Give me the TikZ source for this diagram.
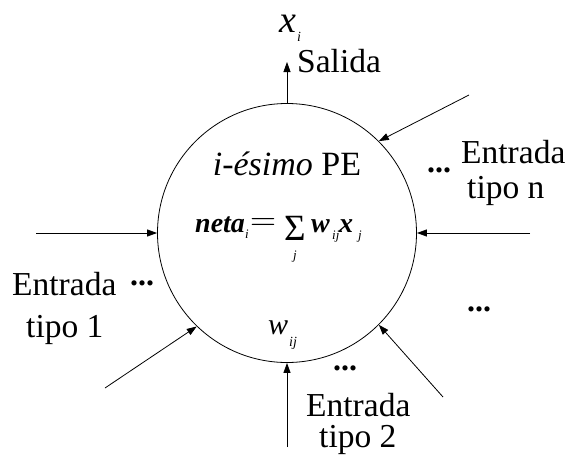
\documentclass[tikz,border=0pt]{standalone}
\usepackage{fontspec}
\setmainfont{Liberation Serif}
\usetikzlibrary{arrows.meta}
\begin{document}
\begin{tikzpicture}[x=1pt,y=-1pt,
  lbl/.style={inner sep=0pt,anchor=base west,font=\fontsize{33.5}{35}\selectfont},
  dotsl/.style={inner sep=0pt,anchor=base west,font=\fontsize{32}{34}\selectfont\bfseries},
  sub/.style={inner sep=0pt,anchor=base west,font=\fontsize{13}{14}\selectfont\itshape},
  conn/.style={line width=0.8pt,-{Triangle[length=10pt,width=7pt]}}]
\useasboundingbox (0,0) rectangle (574,466);
\node[circle,draw,line width=0.8pt,minimum size=259pt,inner sep=0pt] (c) at (287,233) {};
% free ends
\coordinate (out) at (287,62);
\coordinate (inL) at (36,233);
\coordinate (inR) at (530,233);
\coordinate (inTR) at (469,95);
\coordinate (inLL) at (105,388);
\coordinate (inB) at (287,447);
\coordinate (inLR) at (443,397);
\draw[conn] (c.north) -- (out);
\draw[conn] (inL) -- (c.west);
\draw[conn] (inR) -- (c.east);
\draw[conn] (inTR) -- (c.45);
\draw[conn] (inLL) -- (c.226);
\draw[conn] (inB) -- (c.south);
\draw[conn] (inLR) -- (c.-45);
% output labels
\node[inner sep=0pt,anchor=base west,font=\fontsize{38}{40}\selectfont\itshape] (xi) at (279,32) {x};
\node[sub,font=\fontsize{14}{16}\selectfont\itshape] (xisub) at (297,41) {i};
\node[lbl] (sal) at (297,72) {Salida};
% inside
\node[inner sep=0pt,anchor=base,font=\fontsize{34}{36}\selectfont] (pe) at (287,175) {\textit{i-ésimo} PE};
\node[inner sep=0pt,anchor=base west,font=\fontsize{28}{30}\selectfont\bfseries\itshape] (neta) at (195,232) {neta};
\node[sub] (netai) at (245,238) {i};
\node[inner sep=0pt,anchor=center,xscale=3.4,yscale=3] (eq) at (263,224) {$=$};
\node[inner sep=0pt,anchor=base,font=\fontsize{37}{38}\selectfont] (sum) at (295,240) {Σ};
\node[sub,anchor=base] (sumj) at (295,259) {j};
\node[inner sep=0pt,anchor=base west,font=\fontsize{28}{30}\selectfont\bfseries\itshape] (w) at (311,232) {w};
\node[sub] (wij) at (332,239) {ij};
\node[inner sep=0pt,anchor=base west,font=\fontsize{28}{30}\selectfont\bfseries\itshape] (x) at (339,232) {x};
\node[sub] (xj) at (358,239) {j};
\node[inner sep=0pt,anchor=base west,font=\fontsize{30}{32}\selectfont\itshape] (wb) at (268,334) {w};
\node[sub,font=\fontsize{14}{16}\selectfont\itshape] (wbij) at (289,346) {ij};
% input labels
\node[lbl] (eR) at (461,163) {Entrada};
\node[lbl] (tR) at (467,198) {tipo n};
\node[lbl] (eL) at (12,295) {Entrada};
\node[lbl] (tL) at (26,337) {tipo 1};
\node[lbl] (eB) at (306,416) {Entrada};
\node[lbl] (tB) at (319,447) {tipo 2};
% dots
\node[dotsl] (d1) at (427,172) {...};
\node[dotsl] (d2) at (130,285) {...};
\node[dotsl] (d3) at (467,311) {...};
\node[dotsl] (d4) at (333,370) {...};
\end{tikzpicture}
\end{document}
